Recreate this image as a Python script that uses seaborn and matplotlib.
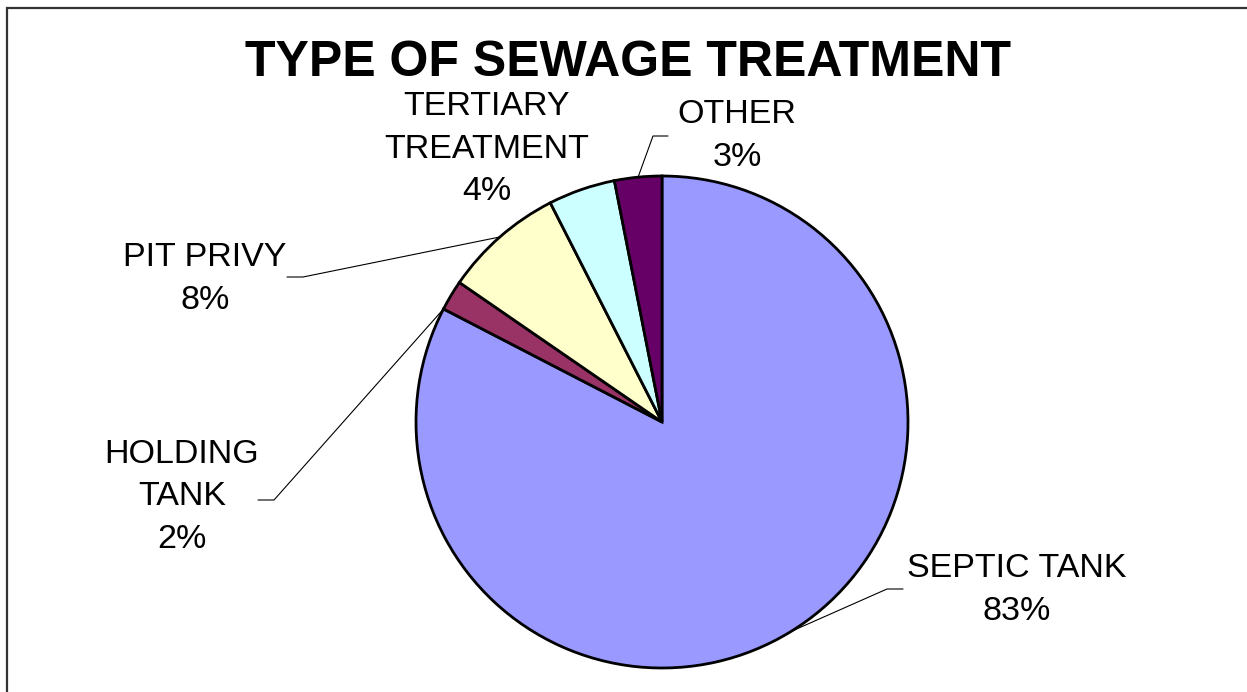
import numpy as np
import matplotlib
matplotlib.use("Agg")
import matplotlib.pyplot as plt
import seaborn as sns
from matplotlib.patches import Rectangle

sns.set_theme(style="white")
plt.rcParams['font.family'] = ['Liberation Sans', 'DejaVu Sans']

categories = ["SEPTIC TANK", "HOLDING TANK", "PIT PRIVY", "TERTIARY TREATMENT", "OTHER"]
label_text = ["SEPTIC TANK", "HOLDING\nTANK", "PIT PRIVY", "TERTIARY\nTREATMENT", "OTHER"]
values = [82.6, 2.0, 7.9, 4.4, 3.1]
colors = ["#9999FF", "#993366", "#FFFFCC", "#CCFFFF", "#660066"]
title = "TYPE OF SEWAGE TREATMENT"

W, H = 1247, 692
fig = plt.figure(figsize=(W / 100, H / 100), dpi=100)
ax = fig.add_axes([0, 0, 1, 1])

# pixel geometry of the pie
cx, cy, R = 662, 422, 246

def px(x, y):
    return ((x - cx) / R, (cy - y) / R)

wedges, _ = ax.pie(values, colors=colors, startangle=90, counterclock=False,
                   radius=1.0, center=(0, 0),
                   wedgeprops=dict(edgecolor="black", linewidth=2.0))

ax.set_xlim((0 - cx) / R, (W - cx) / R)
ax.set_ylim((cy - H) / R, cy / R)
ax.set_aspect('auto')
ax.axis('off')

total = sum(values)
pct = [f"{round(v / total * 100):d}%" for v in values]

# label centres (pixels) and leader line info
text_pos = [(1017, 590), (182, 497), (205, 279), (487, 149), (737, 136)]
leaders = [
    (148.4 / 360, (887, 589), (903, 589)),
    (0.826, (274, 500), (258, 500)),
    (None, (303, 277), (287, 277)),
    None,
    (None, (653, 136), (668, 136)),
]

fs = 24.5
cum = np.cumsum([0] + values) / total
for i, (lab, p, (tx, ty)) in enumerate(zip(label_text, pct, text_pos)):
    x, y = px(tx, ty)
    ax.text(x, y, f"{lab}\n{p}", ha="center", va="center", fontsize=fs,
            color="black", linespacing=1.46)
    ld = leaders[i]
    if ld is None:
        continue
    frac, elbow, end = ld
    if frac is None:
        frac = (cum[i] + cum[i + 1]) / 2
    ang = np.deg2rad(90 - frac * 360)
    ax0, ay0 = np.cos(ang), np.sin(ang)
    ex, ey = px(*elbow)
    nx, ny = px(*end)
    ax.plot([ax0, ex, nx], [ay0, ey, ny], color="black", lw=0.8,
            solid_joinstyle="miter")

fig.text(628 / W, 1 - 63 / H, title, ha="center", va="center",
         fontsize=36, fontweight="bold", color="black")

fig.patches.append(Rectangle((7 / W, -0.1), 1.2, 1.1 - 8 / H,
                             transform=fig.transFigure, fill=False,
                             edgecolor="#333333", linewidth=1.6))

fig.savefig("out.png", dpi=100, facecolor="white")
